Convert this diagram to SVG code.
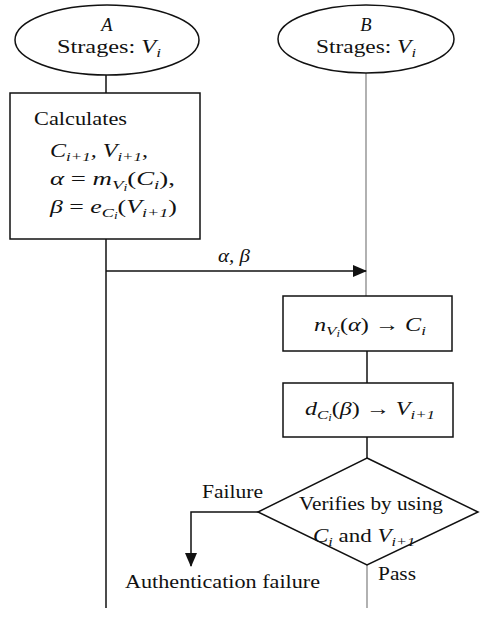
<svg xmlns="http://www.w3.org/2000/svg" width="480" height="618" viewBox="0 0 480 618">
<defs>
<style>
.t{font-family:"Liberation Serif","Times New Roman",serif;font-size:18.5px;fill:#111}
.i{font-style:italic}
.s{font-size:13px}
.ss{font-size:9.5px}
.shape{fill:#fff;stroke:#111;stroke-width:1.5}
.ln{fill:none;stroke:#111;stroke-width:1.5}
.lg{fill:none;stroke:#888;stroke-width:1.3}
</style>
<marker id="ah" markerWidth="14" markerHeight="12" refX="13" refY="6" orient="auto" markerUnits="userSpaceOnUse">
<path d="M0,0 L14,6 L0,12 Z" fill="#111"/>
</marker>
</defs>
<g id="connectors">
<line class="ln" x1="106" y1="75" x2="106" y2="93"/>
<line class="ln" x1="106" y1="239" x2="106" y2="608"/>
<line class="lg" x1="366" y1="73" x2="366" y2="296"/>
<line class="ln" x1="106" y1="271" x2="366" y2="271" marker-end="url(#ah)"/>
<line class="ln" x1="367" y1="351" x2="367" y2="383"/>
<line class="ln" x1="367" y1="437" x2="367" y2="458"/>
<polyline class="ln" points="258,512 191,512 191,566" marker-end="url(#ah)"/>
<line class="lg" x1="367" y1="565" x2="367" y2="608"/>
<text class="t i" x="218" y="262" textLength="32" lengthAdjust="spacingAndGlyphs">α, β</text>
<text class="t" x="202" y="498" textLength="61" lengthAdjust="spacingAndGlyphs">Failure</text>
<text class="t" x="378" y="580" textLength="38" lengthAdjust="spacingAndGlyphs">Pass</text>
</g>
<g id="nodeA">
<ellipse class="shape" cx="107" cy="40" rx="92" ry="35"/>
<text class="t i" x="107" y="31" text-anchor="middle">A</text>
<text class="t" x="57" y="53" textLength="104" lengthAdjust="spacingAndGlyphs">Strages: <tspan class="i">V</tspan><tspan class="s i" dy="4">i</tspan></text>
</g>
<g id="nodeB">
<ellipse class="shape" cx="366" cy="39" rx="88" ry="34"/>
<text class="t i" x="366" y="31" text-anchor="middle">B</text>
<text class="t" x="316" y="53" textLength="100" lengthAdjust="spacingAndGlyphs">Strages: <tspan class="i">V</tspan><tspan class="s i" dy="4">i</tspan></text>
</g>
<g id="calc">
<rect class="shape" x="10" y="93" width="190" height="146"/>
<text class="t" x="34" y="125" textLength="93" lengthAdjust="spacingAndGlyphs">Calculates</text>
<text class="t i" x="50" y="157" textLength="98" lengthAdjust="spacingAndGlyphs">C<tspan class="s" dy="4">i+1</tspan><tspan dy="-4">, V</tspan><tspan class="s" dy="4">i+1</tspan><tspan dy="-4" font-style="normal">,</tspan></text>
<text class="t i" x="50" y="185" textLength="125" lengthAdjust="spacingAndGlyphs">α <tspan font-style="normal">=</tspan> m<tspan class="s" dy="4">V</tspan><tspan class="ss" dy="2">i</tspan><tspan dy="-6" font-style="normal">(</tspan>C<tspan class="s" dy="4">i</tspan><tspan dy="-4" font-style="normal">),</tspan></text>
<text class="t i" x="50" y="213" textLength="127" lengthAdjust="spacingAndGlyphs">β <tspan font-style="normal">=</tspan> e<tspan class="s" dy="4">C</tspan><tspan class="ss" dy="2">i</tspan><tspan dy="-6" font-style="normal">(</tspan>V<tspan class="s" dy="4">i+1</tspan><tspan dy="-4" font-style="normal">)</tspan></text>
</g>
<g id="decodeN">
<rect class="shape" x="283" y="296" width="169" height="55"/>
<text class="t i" x="314" y="331" textLength="112" lengthAdjust="spacingAndGlyphs">n<tspan class="s" dy="4">V</tspan><tspan class="ss" dy="2">i</tspan><tspan dy="-6" font-style="normal">(</tspan>α<tspan font-style="normal">) → </tspan>C<tspan class="s" dy="4">i</tspan></text>
</g>
<g id="decodeD">
<rect class="shape" x="283" y="383" width="170" height="54"/>
<text class="t i" x="305" y="415" textLength="130" lengthAdjust="spacingAndGlyphs">d<tspan class="s" dy="4">C</tspan><tspan class="ss" dy="2">i</tspan><tspan dy="-6" font-style="normal">(</tspan>β<tspan font-style="normal">) → </tspan>V<tspan class="s" dy="4">i+1</tspan></text>
</g>
<g id="verify">
<polygon class="shape" points="367,458 478,512 367,565 258,512"/>
<text class="t" x="299" y="510" textLength="144" lengthAdjust="spacingAndGlyphs">Verifies by using</text>
<text class="t" x="313" y="542" textLength="102" lengthAdjust="spacingAndGlyphs"><tspan class="i">C</tspan><tspan class="s i" dy="4">i</tspan><tspan dy="-4"> and </tspan><tspan class="i">V</tspan><tspan class="s i" dy="4">i+1</tspan></text>
</g>
<g id="authFail">
<text class="t" x="125" y="588" textLength="195" lengthAdjust="spacingAndGlyphs">Authentication failure</text>
</g>
</svg>
